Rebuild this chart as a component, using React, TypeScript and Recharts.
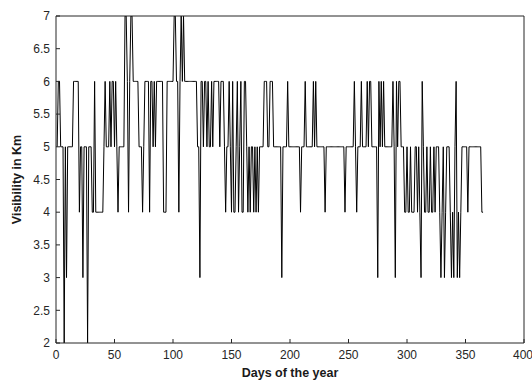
import { LineChart, Line, XAxis, YAxis } from "recharts";

// Visibilidad diaria (km), leída mes a mes del gráfico original
const ene = [5, 6, 6, 5, 5, 5, 2, 5, 3, 5, 5, 5, 5, 5, 6, 6, 6, 6, 6, 4, 5, 5, 3, 5, 5, 5, 2, 5, 5, 5, 4];
const feb = [4, 6, 4, 4, 4, 4, 4, 4, 4, 5, 6, 5, 5, 5, 6, 5, 6, 6, 5, 6, 5, 4, 5, 5, 5, 5, 5, 7];
const mar = [7, 6, 4, 6, 7, 7, 6, 6, 6, 6, 6, 5, 5, 5, 4, 5, 6, 6, 6, 6, 4, 6, 6, 5, 6, 5, 6, 6, 6, 6, 6];
const abr = [6, 4, 4, 4, 6, 6, 6, 6, 6, 6, 7, 7, 6, 6, 4, 6, 7, 6, 7, 6, 6, 6, 6, 6, 6, 6, 6, 6, 6, 6];
const may = [5, 5, 3, 6, 6, 5, 6, 6, 5, 6, 5, 5, 6, 5, 6, 6, 6, 6, 6, 5, 6, 6, 6, 5, 4, 5, 5, 6, 5, 4, 6];
const jun = [4, 4, 5, 6, 4, 5, 6, 4, 4, 6, 6, 5, 4, 5, 4, 5, 5, 4, 5, 4, 5, 4, 5, 5, 5, 5, 6, 6, 6, 5];
const jul = [5, 6, 6, 6, 5, 5, 5, 5, 5, 5, 5, 3, 5, 5, 5, 5, 6, 5, 5, 5, 5, 5, 5, 5, 5, 5, 5, 4, 5, 5, 5];
const ago = [6, 5, 5, 5, 5, 5, 5, 6, 5, 6, 5, 5, 5, 5, 5, 5, 5, 4, 5, 5, 5, 5, 5, 5, 5, 5, 5, 5, 5, 5, 5];
const sep = [5, 5, 5, 4, 5, 5, 5, 5, 5, 5, 5, 6, 5, 4, 5, 5, 5, 6, 5, 5, 5, 5, 6, 5, 6, 6, 5, 5, 5, 5];
const oct = [5, 3, 6, 5, 6, 5, 6, 5, 5, 5, 5, 5, 5, 5, 6, 5, 3, 6, 5, 6, 6, 5, 5, 5, 4, 4, 5, 4, 4, 5, 4];
const nov = [4, 4, 5, 5, 4, 5, 4, 3, 6, 5, 4, 4, 5, 4, 4, 5, 4, 4, 5, 4, 5, 5, 5, 4, 3, 4, 5, 3, 4, 5];
const dic = [5, 5, 4, 3, 4, 3, 5, 6, 3, 4, 3, 4, 5, 5, 5, 5, 5, 4, 5, 5, 5, 5, 5, 5, 5, 5, 5, 5, 5, 4, 4];

const visibilidad = [...ene, ...feb, ...mar, ...abr, ...may, ...jun, ...jul, ...ago, ...sep, ...oct, ...nov, ...dic];

const ticksDias = [0, 50, 100, 150, 200, 250, 300, 350, 400];
const ticksKm = [2, 2.5, 3, 3.5, 4, 4.5, 5, 5.5, 6, 6.5, 7];

const datos = visibilidad.map((km, i) => ({ dia: i + 1, km }));

const EJE = "#262626";
const FUENTE = "'Liberation Sans', Arial, Helvetica, sans-serif";

export default function App() {
  return (
    <div style={{ position: "absolute", left: 0, top: 0, background: "#fff" }}>
      <LineChart
        width={532}
        height={383}
        data={datos}
        margin={{ top: 15, right: 7, bottom: 0, left: 0 }}
        style={{ fontFamily: FUENTE }}
      >
        <XAxis
          xAxisId="abajo"
          dataKey="dia"
          type="number"
          domain={[0, 400]}
          ticks={ticksDias}
          height={40}
          stroke={EJE}
          tickSize={-4}
          tickMargin={11}
          tick={{ fill: EJE, fontSize: 12 }}
          label={{
            value: "Days of the year",
            position: "insideBottom",
            offset: 6,
            style: { fill: "#1a1a1a", fontSize: 12.5, fontWeight: "bold" },
          }}
        />
        <XAxis
          xAxisId="arriba"
          orientation="top"
          dataKey="dia"
          type="number"
          domain={[0, 400]}
          ticks={ticksDias}
          height={1}
          stroke={EJE}
          tickSize={-4}
          tick={false}
        />
        <YAxis
          yAxisId="izq"
          domain={[2, 7]}
          ticks={ticksKm}
          width={56}
          stroke={EJE}
          tickSize={-4}
          tickMargin={10}
          tick={{ fill: EJE, fontSize: 12 }}
          allowDataOverflow
          label={{
            value: "Visibility in Km",
            angle: -90,
            position: "insideLeft",
            offset: 17,
            style: { textAnchor: "middle", fill: "#1a1a1a", fontSize: 12.5, fontWeight: "bold" },
          }}
        />
        <YAxis
          yAxisId="der"
          orientation="right"
          domain={[2, 7]}
          ticks={ticksKm}
          width={1}
          stroke={EJE}
          tickSize={-4}
          tick={false}
          allowDataOverflow
        />
        <Line
          xAxisId="abajo"
          yAxisId="izq"
          type="linear"
          dataKey="km"
          stroke="#000"
          strokeWidth={1}
          dot={false}
          isAnimationActive={false}
        />
      </LineChart>
    </div>
  );
}
